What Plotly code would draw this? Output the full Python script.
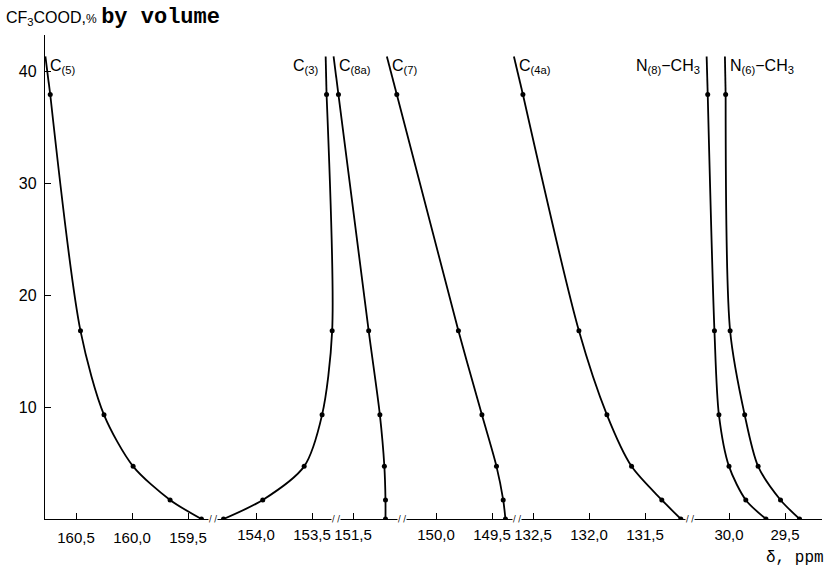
import numpy as np
import plotly.graph_objects as go

# ---------------- data ----------------
conc = [37.9, 16.8, 9.3, 4.7, 1.7, 0.0]          # CF3COOD, % by volume

c5   = [160.73, 160.46, 160.25, 159.99, 159.66, 159.38]
c3   = [153.37, 153.32, 153.41, 153.57, 153.94, 154.29]
c8a  = [151.63, 151.36, 151.26, 151.22, 151.21, 151.21]
c7   = [150.35, 149.80, 149.59, 149.46, 149.40, 149.38]
c4a  = [132.59, 132.09, 131.84, 131.62, 131.35, 131.18]
n8   = [30.19, 30.13, 30.09, 30.00, 29.85, 29.67]
n6   = [30.03, 29.99, 29.86, 29.74, 29.54, 29.37]

curve_names = ["C<sub>(5)</sub>", "C<sub>(3)</sub>", "C<sub>(8a)</sub>", "C<sub>(7)</sub>",
               "C<sub>(4a)</sub>", "N<sub>(8)</sub>−CH<sub>3</sub>", "N<sub>(6)</sub>−CH<sub>3</sub>"]
curves = [c5, c3, c8a, c7, c4a, n8, n6]
curve_axis = [1, 2, 3, 4, 5, 6, 6]

seg_ticks = [[160.5, 160.0, 159.5], [154.0, 153.5], [151.5], [150.0, 149.5],
             [132.5, 132.0, 131.5], [30.0, 29.5]]
seg_ticktext = [["160,5", "160,0", "159,5"], ["154,0", "153,5"], ["151,5"],
                ["150,0", "149,5"], ["132,5", "132,0", "131,5"], ["30,0", "29,5"]]

y_ticks = [10, 20, 30, 40]

# ---------------- layout geometry ----------------
W, H = 825, 568
L, R, T, B = 45, 822, 35, 519          # plot area in pixels
y_top = (B - T) / 11.2                 # 11.2 px per % unit
s = 0.5 / 56                           # ppm per pixel (same for all segments)
# anchor (tick value, pixel) for each broken-axis segment
anchors = [(160.0, 132), (154.0, 256), (151.5, 353), (150.0, 436), (132.0, 589), (30.0, 729)]
breaks = [(1, 159.28), (2, 153.29), (3, 151.06), (4, 149.28), (5, 131.10)]

SANS = "Liberation Sans, Arial, sans-serif"
MONO = "Liberation Mono, DejaVu Sans Mono, monospace"
TICKFONT = dict(family=SANS, size=15, color="black")
LABFONT = dict(family=SANS, size=16, color="black")

fig = go.Figure()

def axname(k):
    return "x" if k == 1 else f"x{k}"

label_y = 40.4
leader_top = 41.3
for name, xs, k in zip(curve_names, curves, curve_axis):
    fig.add_trace(go.Scatter(
        x=xs, y=conc, xaxis=axname(k), yaxis="y", mode="lines+markers",
        line=dict(color="black", width=1.8, shape="spline", smoothing=0.8),
        marker=dict(color="black", size=5), showlegend=False, hoverinfo="skip"))
    # leader stroke continuing the curve up to its label
    x0, x1 = xs[0], xs[1]
    y0, y1 = conc[0], conc[1]
    xe = x0 + (x0 - x1) * (leader_top - y0) / (y0 - y1)
    fig.add_trace(go.Scatter(
        x=[x0, xe], y=[y0, leader_top], xaxis=axname(k), yaxis="y", mode="lines",
        line=dict(color="black", width=1.8), showlegend=False, hoverinfo="skip"))
    right = name.startswith("C<sub>(3)") or name.startswith("N<sub>(8)")
    fig.add_annotation(x=xe, y=label_y, xref=axname(k), yref="y", text=name,
                       showarrow=False, font=LABFONT,
                       xanchor="right" if right else "left",
                       xshift=-5 if right else 3)

layout = dict(
    width=W, height=H, paper_bgcolor="white", plot_bgcolor="white",
    margin=dict(l=L, r=W - R, t=T, b=H - B),
    showlegend=False,
    yaxis=dict(range=[0, y_top], tickvals=y_ticks, ticks="inside", ticklen=6,
               tickcolor="black", showline=True, linecolor="black", linewidth=1.3,
               showgrid=False, zeroline=False, tickfont=dict(family=SANS, size=16, color="black"),
               ticklabelstandoff=4),
)
for k, ((v, p), tv, tt) in enumerate(zip(anchors, seg_ticks, seg_ticktext), start=1):
    rng = [v + (p - L) * s, v - (R - p) * s]
    ax = dict(range=rng, tickvals=tv, ticktext=tt, ticks="inside", ticklen=6,
              tickcolor="black", showgrid=False, zeroline=False, tickfont=TICKFONT,
              showline=(k == 1), linecolor="black", linewidth=1.3, domain=[0, 1],
              ticklabelstandoff=5)
    if k > 1:
        ax.update(overlaying="x", anchor="y", side="bottom")
    layout["xaxis" if k == 1 else f"xaxis{k}"] = ax
fig.update_layout(**layout)

for k, v in breaks:
    fig.add_annotation(x=v, y=0, xref=axname(k), yref="y", text="/ /", showarrow=False,
                       bgcolor="white", borderpad=0,
                       font=dict(family="DejaVu Sans", size=8, color="black"))

fig.add_annotation(
    xref="paper", yref="paper", x=0, y=1, xanchor="left", yanchor="bottom",
    xshift=-41, yshift=3, showarrow=False,
    text="CF<sub>3</sub>COOD,<span style='font-size:12px'>%</span> "
         "<span style='font-family:Liberation Mono, DejaVu Sans Mono, monospace;font-size:22px;font-weight:bold'>by volume</span>",
    font=dict(family=SANS, size=16, color="black"))
fig.add_annotation(
    xref="paper", yref="paper", x=1, y=0, xanchor="right", yanchor="top",
    xshift=4, yshift=-28, showarrow=False, text="δ, ppm",
    font=dict(family=MONO, size=16, color="black"))

fig.write_html("out.html", post_script="document.body.style.margin='0';",
               config={"displayModeBar": False})
